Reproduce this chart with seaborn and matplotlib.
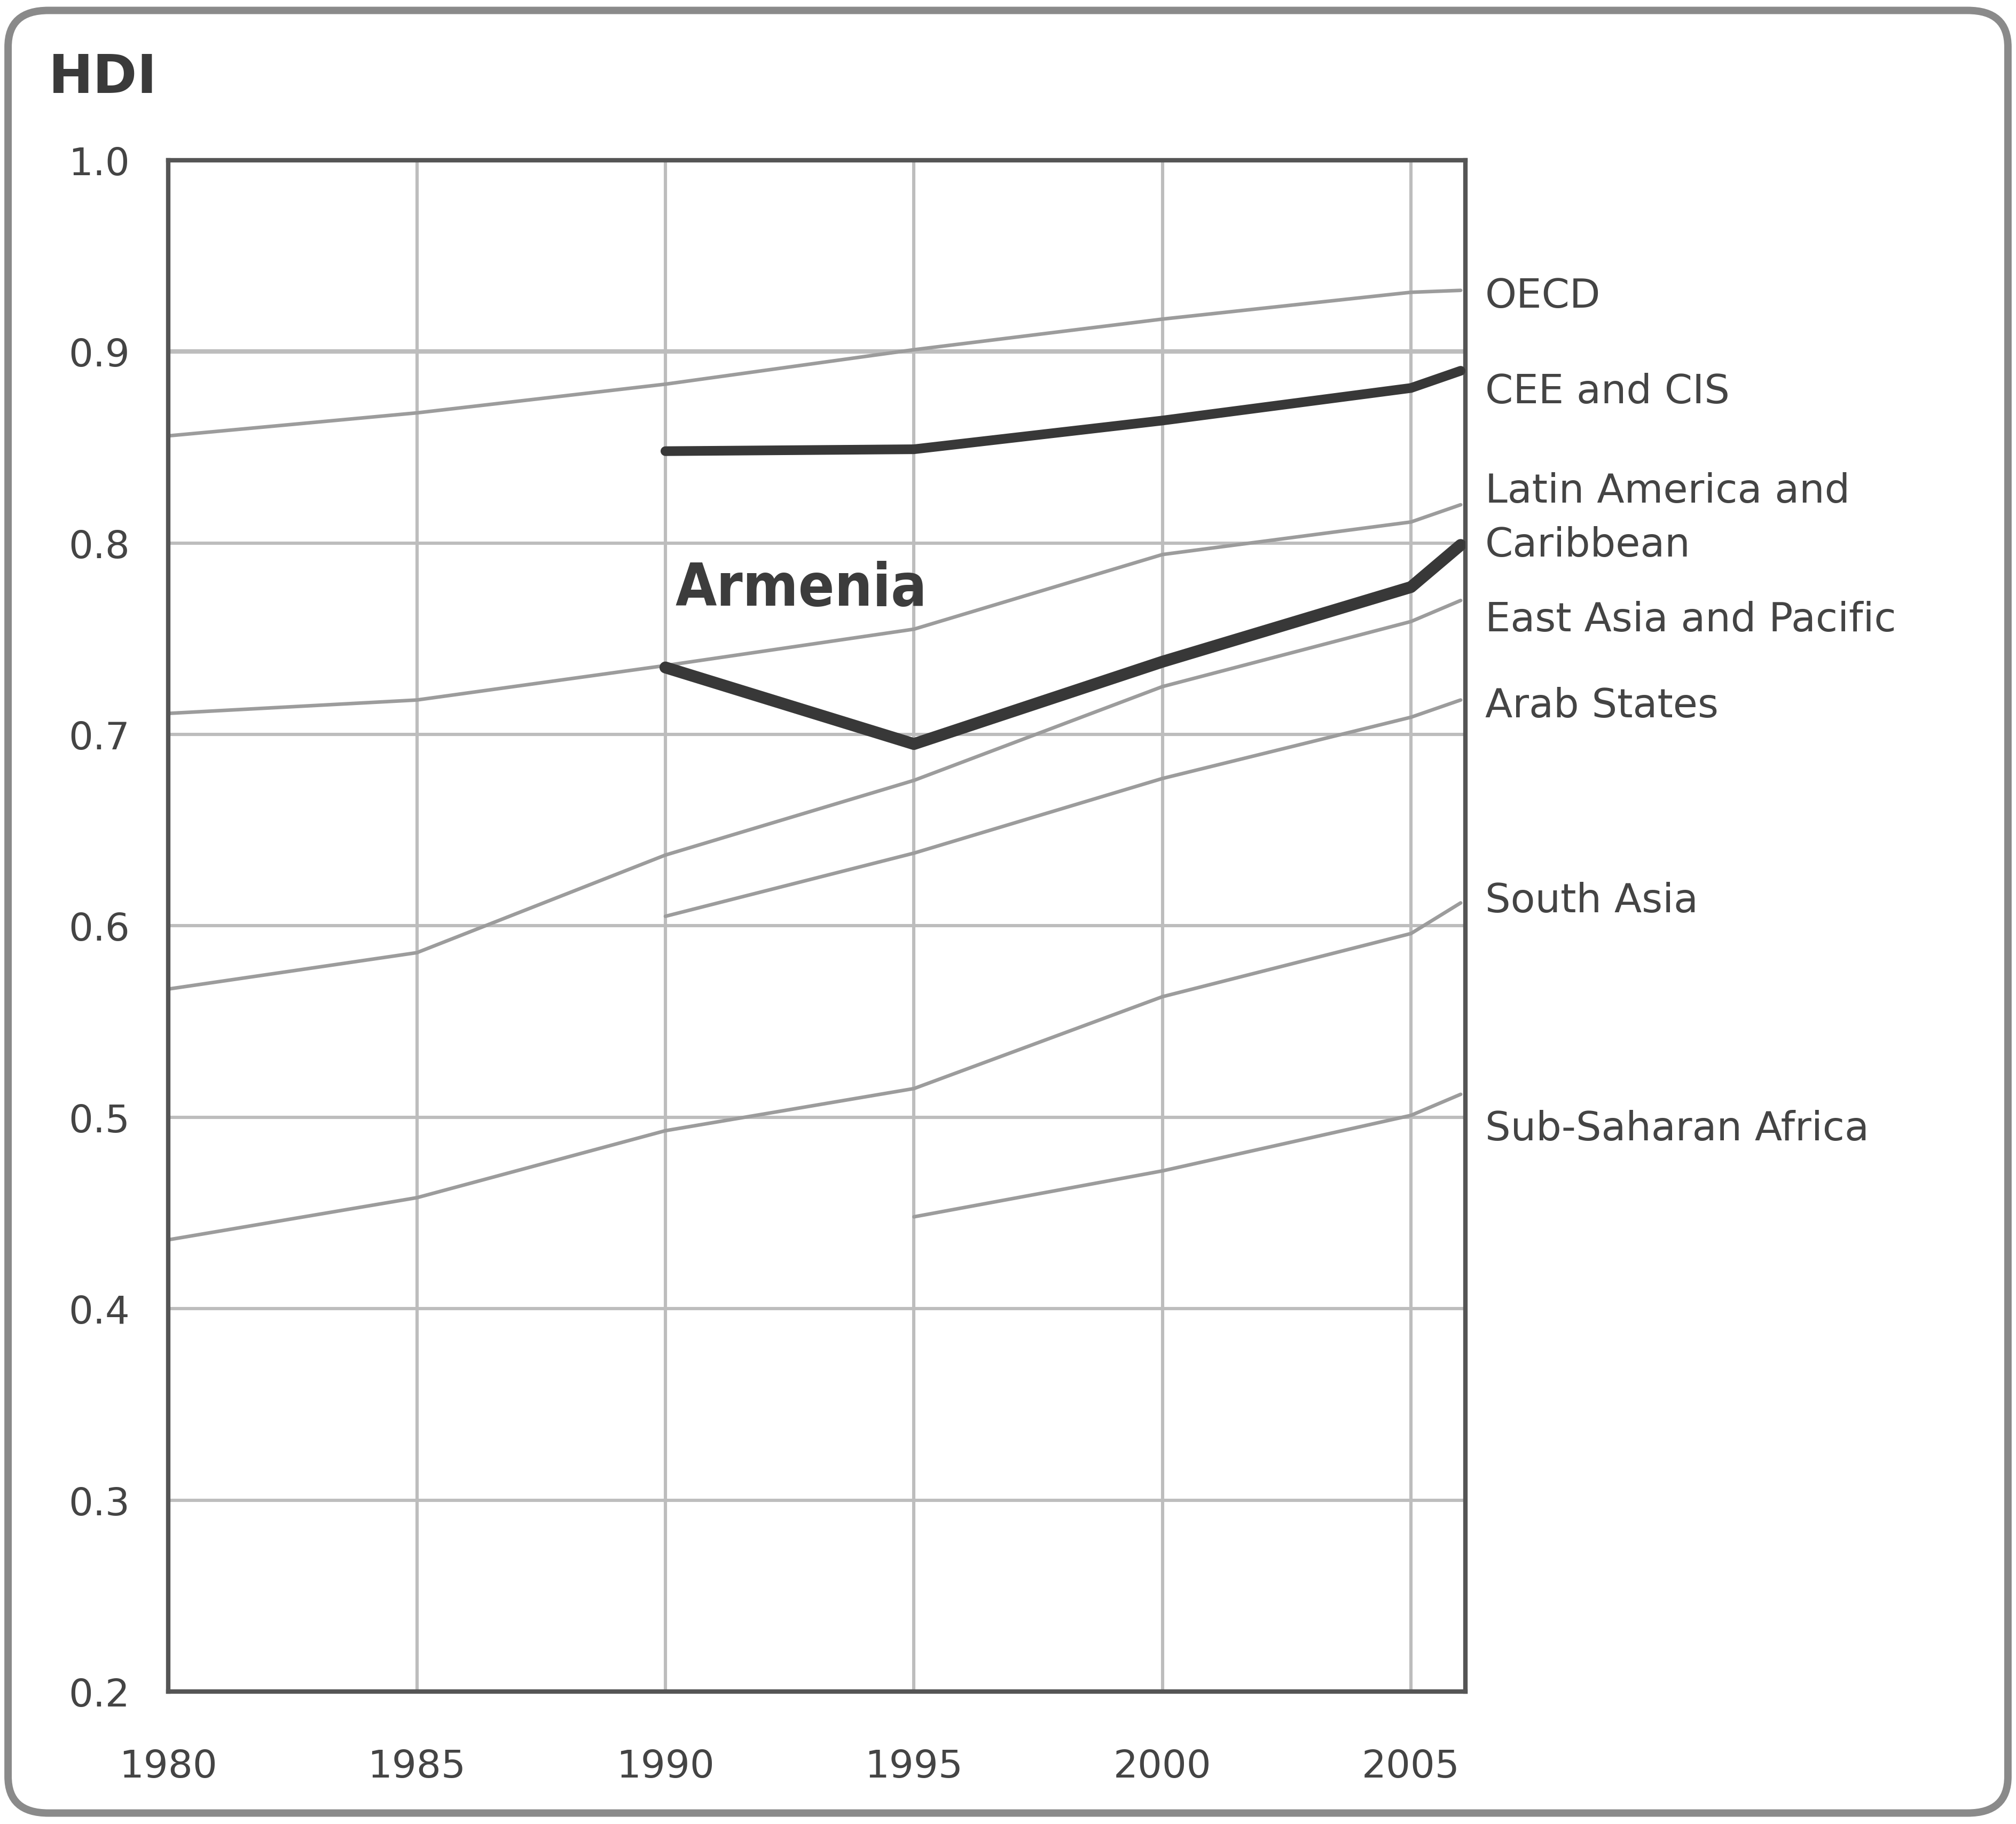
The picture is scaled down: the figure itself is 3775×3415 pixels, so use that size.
import numpy as np
import pandas as pd
import matplotlib
matplotlib.use("Agg")
import matplotlib.pyplot as plt
import seaborn as sns
from matplotlib.patches import FancyBboxPatch

sns.set_style("white")
plt.rcParams['font.family'] = ['DejaVu Sans']

# ---- data ----
years_full = [1980, 1985, 1990, 1995, 2000, 2005, 2006]
years_90 = [1990, 1995, 2000, 2005, 2006]
years_95 = [1995, 2000, 2005, 2006]

oecd = [0.856, 0.868, 0.883, 0.901, 0.917, 0.931, 0.932]
cee_cis = [0.848, 0.849, 0.864, 0.881, 0.890]
latin_am = [0.711, 0.718, 0.736, 0.755, 0.794, 0.811, 0.820]
armenia = [0.735, 0.695, 0.738, 0.777, 0.799]
east_asia = [0.567, 0.586, 0.637, 0.676, 0.725, 0.759, 0.770]
arab = [0.605, 0.638, 0.677, 0.709, 0.718]
south_asia = [0.436, 0.458, 0.493, 0.515, 0.563, 0.596, 0.612]
ssa = [0.448, 0.472, 0.501, 0.512]

region_labels = ['OECD', 'CEE and CIS', 'Latin America and\nCaribbean',
                 'East Asia and Pacific', 'Arab States', 'South Asia',
                 'Sub-Saharan Africa']
label_y = [0.929, 0.879, 0.813, 0.760, 0.715, 0.613, 0.494]

x_ticks = [1980, 1985, 1990, 1995, 2000, 2005]
y_ticks = [0.2, 0.3, 0.4, 0.5, 0.6, 0.7, 0.8, 0.9, 1.0]

THIN, THICK, GRID, TXT = '#9c9c9c', '#383838', '#bdbdbd', '#444444'

fig = plt.figure(figsize=(18.875, 17.08), dpi=200)
ax = fig.add_axes([0.0835, 0.0726, 0.6435, 0.8393])

# grid lines drawn underneath
for yv in y_ticks[1:-1]:
    ax.axhline(yv, color=GRID, lw=3.0 if yv == 0.9 else 2.2, zorder=0)
for xv in x_ticks[1:]:
    ax.axvline(xv, color=GRID, lw=2.2, zorder=0)

thin_series = [(years_full, oecd), (years_full, latin_am), (years_full, east_asia),
               (years_90, arab), (years_full, south_asia), (years_95, ssa)]
for xs, ys in thin_series:
    sns.lineplot(x=xs, y=ys, ax=ax, color=THIN, lw=2.4, zorder=2)

sns.lineplot(x=years_90, y=cee_cis, ax=ax, color=THICK, lw=6.5, zorder=3)
sns.lineplot(x=years_90, y=armenia, ax=ax, color=THICK, lw=8, zorder=3)

ax.set_xlim(1980, 2006.1)
ax.set_ylim(0.2, 1.0)
ax.set_xticks(x_ticks)
ax.set_yticks(y_ticks)
ax.set_yticklabels([f'{v:.1f}' for v in y_ticks])
ax.tick_params(axis='both', length=0, labelsize=26, colors=TXT)
ax.tick_params(axis='y', pad=26)
ax.tick_params(axis='x', pad=38)
for sp in ax.spines.values():
    sp.set_color('#555555')
    sp.set_linewidth(3)
ax.set_xlabel('')
ax.set_ylabel('')

# region names on the right
for name, yv in zip(region_labels, label_y):
    ax.text(1.015, yv, name, transform=ax.get_yaxis_transform(), ha='left',
            va='center', fontsize=27, color=TXT, linespacing=1.5,
            clip_on=False)

ax.text(1990.2, 0.776, 'Armenia', fontsize=40, fontweight='bold',
        color='#3c3c3c', ha='left', va='center', fontstretch='condensed')

fig.text(0.024, 0.957, 'HDI', fontsize=36, fontweight='bold', color='#3a3a3a',
         ha='left', va='center')

# rounded frame around the whole graphic
frame = FancyBboxPatch((0.004, 0.006), 0.992, 0.988,
                       boxstyle='round,pad=0,rounding_size=0.02',
                       transform=fig.transFigure, fill=False,
                       edgecolor='#8a8a8a', lw=5)
fig.patches.append(frame)

fig.savefig('out.png', dpi=200, facecolor='white')
